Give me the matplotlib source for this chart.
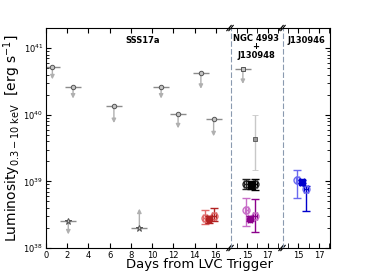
import numpy as np
import matplotlib.pyplot as plt
from matplotlib.ticker import LogLocator, NullFormatter, FixedLocator

# ---- data ----
# SSS17a upper limits (circles)
ul_x = [0.6, 2.55, 6.4, 10.85, 12.45, 14.6, 15.8]
ul_xerr = [0.7, 0.75, 0.75, 0.75, 0.75, 0.75, 0.75]
ul_y = [5.2e40, 2.6e40, 1.35e40, 2.6e40, 1.03e40, 4.3e40, 8.5e39]
ul_tip = [3.4e40, 1.75e40, 7.5e39, 1.75e40, 6.25e39, 2.45e40, 4.75e39]

# SSS17a stars (one upper, one lower limit)
star_x = [2.1, 8.8]
star_xerr = [0.75, 0.75]
star_y = [2.5e38, 2.0e38]
star_tip = [1.6e38, 3.9e38]

# NGC 4993 + J130948 grey squares
sq_ul_x, sq_ul_xerr, sq_ul_y, sq_ul_tip = 14.6, 0.75, 4.8e40, 2.9e40
sq_x, sq_y, sq_lo, sq_hi = 15.75, 4.3e39, 1.5e39, 9.8e39

# clusters: [open A, open B, combined]
red_x = [14.95, 15.8, 15.35]
red_y = [2.85e38, 3.0e38, 2.7e38]
red_lo = [2.3e38, 2.5e38, 2.4e38]
red_hi = [3.7e38, 4.0e38, 3.0e38]

blk_x = [14.9, 15.8, 15.35]
blk_y = [9.2e38, 9.0e38, 8.7e38]
blk_lo = [7.6e38, 7.3e38, 7.6e38]
blk_hi = [1.07e39, 1.07e39, 1.0e39]

pur_x = [14.95, 15.8, 15.3]
pur_y = [3.73e38, 3.07e38, 2.73e38]
pur_lo = [2.17e38, 1.71e38, 2.5e38]
pur_hi = [5.7e38, 5.45e38, 3.0e38]

blu_x = [14.93, 15.76, 15.4]
blu_y = [1.05e39, 7.7e38, 9.9e38]
blu_lo = [5.6e38, 3.6e38, 9.4e38]
blu_hi = [1.47e39, 8.6e38, 1.05e39]

ylim = (1e38, 2e41)
dash_col = '#8a9ab0'

fig = plt.figure(figsize=(3.66, 2.76), dpi=100)
bot, h = 0.1014, 0.797
ax1 = fig.add_axes([0.1257, bot, 0.5000, h])
ax2 = fig.add_axes([0.6312, bot, 0.1366, h])
ax3 = fig.add_axes([0.7732, bot, 0.1284, h])
axes = [ax1, ax2, ax3]

ax1.set_xlim(0, 17.25)
ax2.set_xlim(13.45, 18.3)
ax3.set_xlim(13.55, 18.05)

for ax in axes:
    ax.set_yscale('log')
    ax.set_ylim(*ylim)
    ax.tick_params(which='both', direction='in', top=True, labelsize=6, pad=2)
    ax.tick_params(which='major', length=3.5)
    ax.tick_params(which='minor', length=2)
    ax.yaxis.set_major_locator(LogLocator(base=10))
    ax.yaxis.set_minor_locator(LogLocator(base=10, subs=np.arange(2, 10)))
    ax.yaxis.set_minor_formatter(NullFormatter())
    for s in ax.spines.values():
        s.set_linewidth(0.8)

ax1.set_xticks(np.arange(0, 17, 2))
ax1.tick_params(axis='y', which='both', right=False)
ax1.spines['right'].set_visible(False)

for ax in (ax2, ax3):
    ax.xaxis.set_major_locator(FixedLocator([15, 17]))
    ax.xaxis.set_minor_locator(FixedLocator([14, 16, 18]))
    ax.tick_params(axis='x', which='minor', length=3.5)
    ax.spines['left'].set_linestyle((0, (4, 3)))
    ax.spines['left'].set_color(dash_col)
    ax.tick_params(axis='y', which='both', left=False, labelleft=False)
ax2.spines['right'].set_visible(False)
ax2.tick_params(axis='y', which='both', right=False)
ax3.tick_params(axis='y', which='both', right=True)

arrow_kw = dict(arrowstyle='-|>', color='#b0b0b0', lw=1.0, mutation_scale=6,
                shrinkA=0, shrinkB=0)


def limit(ax, x, xerr, y, tip, marker, ms):
    ax.errorbar(x, y, xerr=xerr, fmt='none', ecolor='#8c8c8c', elinewidth=1.0,
                capsize=0, zorder=2)
    ax.annotate('', xy=(x, tip), xytext=(x, y), arrowprops=arrow_kw, zorder=1)
    ax.plot(x, y, marker=marker, ms=ms, mfc='#c4c4c4', mec='#555555',
            mew=0.7, ls='none', zorder=3)


for x, xe, y, t in zip(ul_x, ul_xerr, ul_y, ul_tip):
    limit(ax1, x, xe, y, t, 'o', 3.2)
for x, xe, y, t in zip(star_x, star_xerr, star_y, star_tip):
    limit(ax1, x, xe, y, t, '*', 5.0)

limit(ax2, sq_ul_x, sq_ul_xerr, sq_ul_y, sq_ul_tip, 's', 3.2)
ax2.errorbar(sq_x, sq_y, yerr=[[sq_y - sq_lo], [sq_hi - sq_y]], fmt='s', ms=3.2,
             mfc='#9a9a9a', mec='#555555', mew=0.6, ecolor='#c8c8c8',
             elinewidth=1.0, capsize=2.5, capthick=1.0)


def cluster(ax, xs, ys, lo, hi, light, dark, fill_marker):
    ys = np.array(ys)
    yerr = np.array([ys - np.array(lo), np.array(hi) - ys])
    ax.errorbar(xs[0], ys[0], yerr=yerr[:, :1], xerr=0.18, fmt='o', ms=5,
                mfc='none', mec=light, ecolor=light, elinewidth=1.0,
                capsize=3, capthick=1.0)
    ax.errorbar(xs[1], ys[1], yerr=yerr[:, 1:2], xerr=0.18, fmt='o', ms=5,
                mfc='none', mec=light, ecolor=dark, elinewidth=1.0,
                capsize=3, capthick=1.0)
    ax.errorbar(xs[2], ys[2], yerr=yerr[:, 2:3], xerr=0.2, fmt=fill_marker,
                ms=4.5, mfc=dark, mec=dark, ecolor=dark, elinewidth=1.0,
                capsize=3, capthick=1.0, zorder=4)


cluster(ax1, red_x, red_y, red_lo, red_hi, '#e06a6a', '#b22222', 'o')
cluster(ax2, blk_x, blk_y, blk_lo, blk_hi, '#222222', '#000000', 's')
cluster(ax2, pur_x, pur_y, pur_lo, pur_hi, '#c86ec8', '#8b008b', 'o')
cluster(ax3, blu_x, blu_y, blu_lo, blu_hi, '#6a6af0', '#0000cc', 's')

# panel labels
ax1.text(0.53, 0.945, 'SSS17a', transform=ax1.transAxes, ha='center',
         va='center', fontsize=6, fontweight='bold')
ax2.text(0.5, 0.975, 'NGC 4993\n+\nJ130948', transform=ax2.transAxes,
         ha='center', va='top', fontsize=6, fontweight='bold', linespacing=0.95)
ax3.text(0.5, 0.945, 'J130946', transform=ax3.transAxes, ha='center',
         va='center', fontsize=6, fontweight='bold')

# break marks
d = 0.012
for ax, side in ((ax1, 1), (ax2, 0), (ax2, 1), (ax3, 0)):
    w = ax.get_position().width
    dx = d * 0.5 / w
    for yy in (0, 1):
        ax.plot([side - dx, side + dx], [yy - d, yy + d], transform=ax.transAxes,
                color='k', lw=0.8, clip_on=False)

fig.text(0.034, 0.50, r'Luminosity$_{0.3-10\ \mathrm{keV}}$  [erg s$^{-1}$]',
         rotation=90, ha='center', va='center', fontsize=10)
fig.text(0.545, 0.04, 'Days from LVC Trigger', ha='center', va='center',
         fontsize=9.5)

fig.savefig('out.png', dpi=100)
